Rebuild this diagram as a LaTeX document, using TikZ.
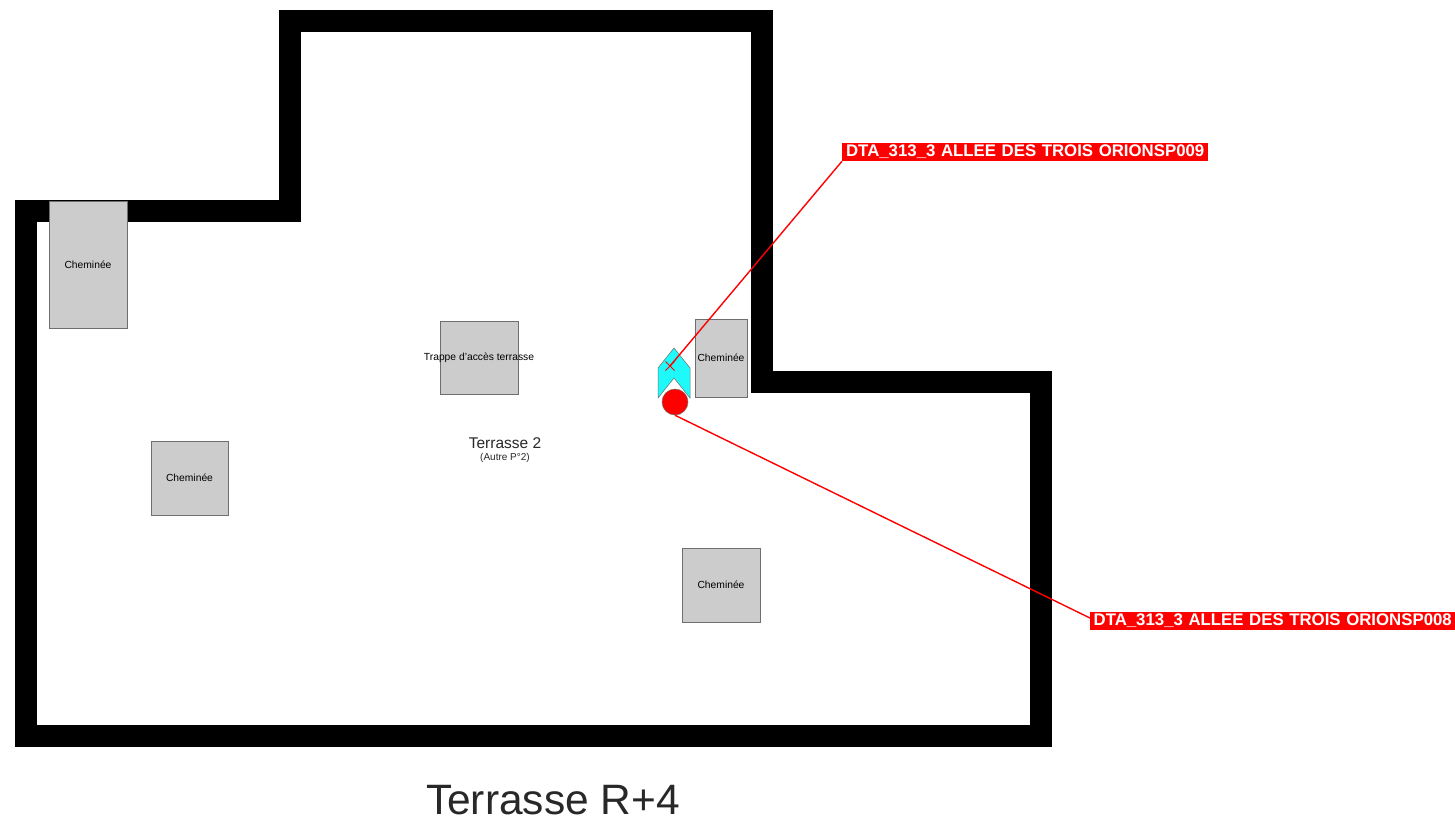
\documentclass[tikz,border=0pt]{standalone}
\usepackage{fontspec}
\setmainfont{Liberation Sans}
\usetikzlibrary{calc}
\definecolor{chimgray}{RGB}{204,204,204}
\definecolor{chimedge}{RGB}{110,110,110}
\definecolor{textgray}{RGB}{40,40,40}
\definecolor{equipcyan}{RGB}{30,250,250}
\definecolor{tagred}{RGB}{255,0,0}
\tikzset{
  wall/.style={draw=black,line width=22pt,miter limit=10},
  chimney/.style={draw=chimedge,fill=chimgray,line width=0.9pt,inner sep=0pt,
     font=\fontsize{10.3}{10.3}\selectfont,text=black},
  tag/.style={fill=tagred,text=white,inner sep=0pt,font=\fontsize{16.8}{17}\selectfont\bfseries},
  leader/.style={draw=tagred,line width=1.4pt},
}
\begin{document}
\begin{tikzpicture}[x=1pt,y=-1pt]
\useasboundingbox (0,0) rectangle (1455,823);
\fill[white] (0,0) rectangle (1455,823);
% walls
\draw[wall] (26,211) -- (290,211) -- (290,21) -- (762,21) -- (762,382) -- (1041,382) -- (1041,736) -- (26,736) -- cycle;
% chimneys
\node[chimney,minimum width=78pt,minimum height=127pt] (c1) at (88,264.5) {\raisebox{-1pt}{\makebox[0pt]{Cheminée}}};
\node[chimney,minimum width=78pt,minimum height=73pt] (trap) at (479,357.5) {\makebox[0pt]{Trappe d'accès terrasse}};
\node[chimney,minimum width=52pt,minimum height=78pt] (c2) at (721,358) {\raisebox{0.5pt}{\makebox[0pt]{Cheminée}}};
\node[chimney,minimum width=77pt,minimum height=74pt] (c3) at (189.5,478) {\raisebox{1pt}{\makebox[0pt]{Cheminée}}};
\node[chimney,minimum width=78pt,minimum height=74pt] (c4) at (721,585) {\makebox[0pt]{Cheminée}};
% room label
\node[inner sep=0pt,text=textgray,font=\fontsize{15.5}{15.5}\selectfont] (room) at (505,443) {Terrasse 2};
\node[inner sep=0pt,text=textgray,font=\fontsize{10}{10}\selectfont] (area) at (505,458) {(Autre P°2)};
% equipment
\fill[draw=chimedge,line width=0.5pt,fill=equipcyan] (674,348) -- (690,368) -- (690,398) -- (674,378) -- (658,398) -- (658,368) -- cycle;
\node[circle,fill=tagred,draw=chimedge,line width=0.5pt,minimum size=26pt,inner sep=0pt] (dot) at (675,402) {};
\coordinate (cross) at (670,366);
\draw[tagred,line width=1pt] ($(cross)+(-4.5,-4.5)$) -- ($(cross)+(4.5,4.5)$);
\draw[tagred,line width=1pt] ($(cross)+(-4.5,4.5)$) -- ($(cross)+(4.5,-4.5)$);
% tags
\node[tag,anchor=west,minimum height=18pt,text width=366pt,align=center] (t1) at (842,152) {DTA\_313\_3 ALLEE DES TROIS ORIONSP009};
\node[tag,anchor=west,minimum height=18pt,text width=365pt,align=center] (t2) at (1090,621) {DTA\_313\_3 ALLEE DES TROIS ORIONSP008};
% leaders
\draw[leader] (cross) -- (t1.south west);
\draw[leader] (dot.south) -- ($(t2.west)+(0,-3)$);
% title
\node[inner sep=0pt,text=textgray,font=\fontsize{42.5}{42.5}\selectfont] (title) at (553,800) {Terrasse R+4};
\end{tikzpicture}
\end{document}
